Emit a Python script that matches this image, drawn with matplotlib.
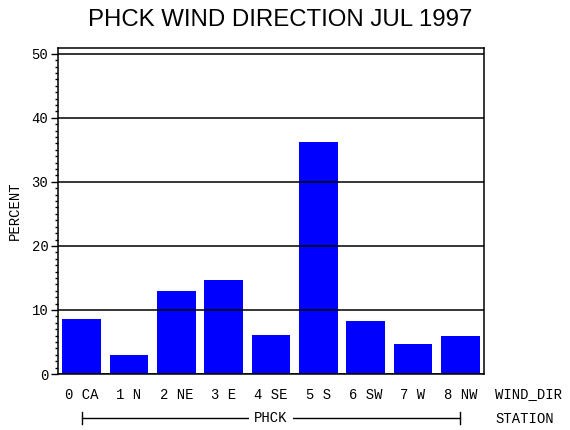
import matplotlib
matplotlib.use("Agg")
import matplotlib.pyplot as plt
from matplotlib.ticker import MultipleLocator
import matplotlib.transforms as mtrans

categories = ["0 CA", "1 N", "2 NE", "3 E", "4 SE", "5 S", "6 SW", "7 W", "8 NW"]
percent = [8.6, 3.0, 12.9, 14.6, 6.1, 36.2, 8.2, 4.7, 6.0]
yticks = [0, 10, 20, 30, 40, 50]
station = "PHCK"

fig = plt.figure(figsize=(5.7, 4.3), dpi=100)
ax = fig.add_axes([58/570, 1-374/430, 426/570, 326/430])

x = list(range(len(categories)))
ax.bar(x, percent, width=0.82, color="#0000ff", zorder=2)
ax.set_xlim(-0.5, len(categories) - 0.5)
ax.set_ylim(0, 50.9)

mono = "Liberation Mono"
fs = 10
ax.set_yticks(yticks)
ax.set_yticklabels([str(v) for v in yticks], family=mono, fontsize=fs)
ax.yaxis.set_minor_locator(MultipleLocator(1))
ax.tick_params(axis="y", which="major", length=5, width=1, direction="out", pad=2)
ax.tick_params(axis="y", which="minor", length=2.5, width=1, direction="out")
ax.set_xticks(x)
ax.set_xticklabels(categories, family=mono, fontsize=fs)
ax.tick_params(axis="x", length=0, pad=10)

ax.yaxis.grid(True, which="major", color="black", linewidth=1.1)
ax.set_axisbelow(False)
for s in ax.spines.values():
    s.set_linewidth(1.1)
    s.set_color("black")

# station bracket
tr = mtrans.blended_transform_factory(ax.transData, ax.transAxes)
yb = -(417.7 - 374) / 326
ax.plot([0, 8], [yb, yb], color="black", lw=1, transform=tr, clip_on=False)
ax.plot([0, 0], [yb - 0.018, yb + 0.018], color="black", lw=1, transform=tr, clip_on=False)
ax.plot([8, 8], [yb - 0.018, yb + 0.018], color="black", lw=1, transform=tr, clip_on=False)
ax.text(4.0, yb, station, transform=tr, ha="center", va="center", family=mono, fontsize=fs,
        bbox=dict(facecolor="white", edgecolor="none", pad=4))

fig.text(495/570, 1 - 394/430, "WIND_DIR", family=mono, fontsize=fs, ha="left", va="center")
fig.text(495/570, 1 - 419/430, "STATION", family=mono, fontsize=fs, ha="left", va="center")
fig.text(15/570, 1 - 211/430, "PERCENT", family=mono, fontsize=fs, ha="center", va="center",
         rotation=90)
fig.text(280.5/570, 1 - 20/430, "PHCK WIND DIRECTION JUL 1997", family="Liberation Sans",
         fontsize=17.3, ha="center", va="center")

fig.savefig("out.png", dpi=100)
